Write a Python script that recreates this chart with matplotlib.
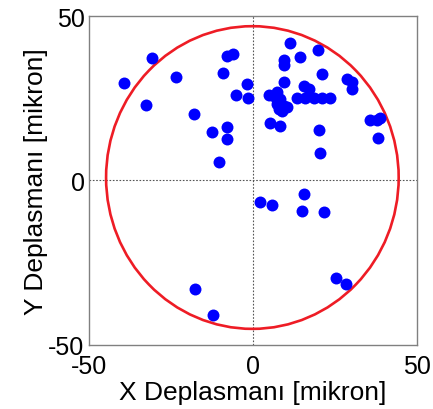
import matplotlib
matplotlib.use("Agg")
import matplotlib.pyplot as plt
from matplotlib.patches import Ellipse

plt.rcParams['font.family'] = ['Liberation Sans', 'DejaVu Sans']

x_vals = [-39.1, -30.6, -23.3, -32.6, -18.0, -8.0, -6.2, -9.0, -1.7, -5.0, -1.4,
          -12.4, -7.9, -7.9, -10.3, 11.2, 9.4, 9.4, 14.3, 19.9, 21.0, 9.4, 4.9,
          7.4, 8.4, 7.4, 9.4, 8.9, 10.4, 15.5, 17.0, 13.5, 16.0, 18.5, 21.1, 23.4,
          28.7, 30.2, 30.2, 35.8, 37.8, 38.8, 38.1, 5.2, 8.4, 20.1, 20.4, 2.1, 5.9,
          15.5, 14.9, 21.7, -17.5, -12.2, 25.4, 28.5, 6.9, 7.9]
y_vals = [29.6, 37.3, 31.4, 22.8, 20.3, 37.9, 38.4, 32.6, 29.3, 25.9, 24.9,
          14.6, 16.1, 12.5, 5.7, 41.7, 36.6, 35.0, 37.6, 39.6, 32.3, 29.8, 25.9,
          27.0, 24.7, 23.2, 22.7, 21.2, 22.2, 28.8, 27.8, 24.9, 24.9, 24.9, 24.9, 24.9,
          30.8, 29.8, 27.8, 18.4, 18.4, 19.1, 12.9, 17.4, 16.6, 15.2, 8.4, -6.5, -7.5,
          -4.1, -9.2, -9.7, -33.0, -40.9, -29.7, -31.7, 25.1, 21.6]

circle_center = (-0.15, 0.85)
circle_width = 89.1
circle_height = 92.1

ticks = [-50, 0, 50]
tick_labels = ['-50', '0', '50']
x_label = 'X Deplasmanı [mikron]'
y_label = 'Y Deplasmanı [mikron]'

fig = plt.figure(figsize=(4.33, 4.10), dpi=100)
ax = fig.add_axes([0.2048, 0.157, 0.7584, 0.8015])

ax.axhline(0, color='#555555', lw=0.8, ls=(0, (1.5, 1.5)), zorder=1)
ax.axvline(0, color='#555555', lw=0.8, ls=(0, (1.5, 1.5)), zorder=1)

ax.plot(x_vals, y_vals, 'o', color='#0000FF', markersize=8.6, markeredgewidth=0, zorder=3)

ell = Ellipse(circle_center, circle_width, circle_height, fill=False,
              edgecolor='#EE1C25', lw=1.9, zorder=2)
ax.add_patch(ell)

ax.set_xlim(-50, 50)
ax.set_ylim(-50, 50)
ax.set_xticks(ticks)
ax.set_xticklabels(tick_labels)
ax.set_yticks(ticks)
ax.set_yticklabels(tick_labels)
ax.tick_params(length=0, labelsize=18, pad=3)
ax.tick_params(axis='x', pad=7)

for s in ax.spines.values():
    s.set_color('#808080')
    s.set_linewidth(1.0)

ax.set_xlabel(x_label, fontsize=19, labelpad=1)
ax.set_ylabel(y_label, fontsize=19, labelpad=0)

fig.savefig('out.png', dpi=100)
